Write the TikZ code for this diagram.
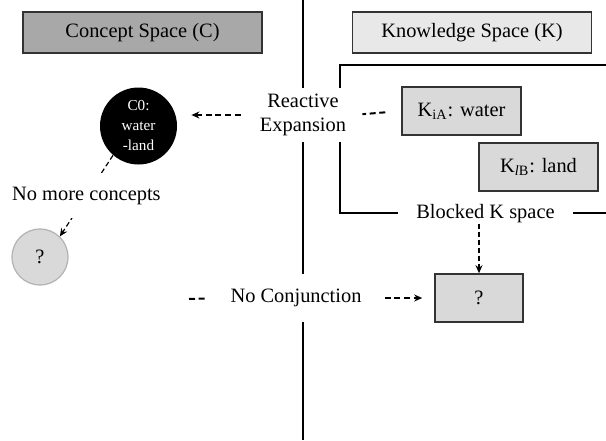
\documentclass[tikz,border=0pt]{standalone}
\usepackage{fontspec}
\setmainfont{Liberation Serif}
\usetikzlibrary{positioning,arrows.meta}
\definecolor{dark-gray}{gray}{0.66}
\definecolor{pale-gray}{gray}{0.91}
\definecolor{box-gray}{gray}{0.85}
\definecolor{edge-gray}{gray}{0.2}
\definecolor{ring-gray}{gray}{0.70}
\tikzstyle{spacestyle}=[shape=rectangle,draw=edge-gray,line width=0.8pt,minimum width=119.5pt,minimum height=20.5pt]
\tikzstyle{kstyle}=[shape=rectangle,fill=box-gray,draw=edge-gray,line width=0.8pt,minimum width=59.5pt,minimum height=24pt]
\tikzstyle{cutstyle}=[fill=white,align=center,inner xsep=3pt,inner ysep=0pt]
\tikzstyle{thickdash}=[line width=1pt,dash pattern=on 3pt off 1.8pt]
\tikzstyle{thindash}=[line width=0.6pt,dash pattern=on 2.5pt off 1.5pt]
\newcommand{\kname}[2]{K\textsubscript{#1}: #2}

\begin{document}
\begin{tikzpicture}[x=0.5pt,y=-0.5pt,font=\fontsize{10.2}{12}\selectfont,
  >={Stealth[length=4pt,width=3.5pt]}]
\useasboundingbox (0,0) rectangle (606,440);
% blocked K frame
\draw[line width=0.8pt] (606,65) -- (340,65) -- (340,213) -- (606,213);
% headers
\draw (142.5,32.5) node [style=spacestyle,fill=dark-gray] (cspace) {Concept Space (C)};
\draw (472,32.5) node [style=spacestyle,fill=pale-gray] (kspace) {Knowledge Space (K)};
% K side
\draw (461.5,111) node [style=kstyle] (kia) {\kname{iA}{water}};
\draw (538.5,167) node [style=kstyle] (kib) {\kname{\textit{l}B}{land}};
\draw (479,298) node [style=kstyle,minimum width=44pt] (qbox) {?};
\draw (485.5,214) node [style=cutstyle,inner xsep=9pt] (blocked) {Blocked K space};
% C side
\draw (138.5,126) node [shape=circle,fill=black,text=white,align=center,minimum size=38.5pt,inner sep=0pt,
  font=\fontsize{7.6}{10}\selectfont] (c0) {C0:\\water\\-land};
\draw (40,257) node [shape=circle,fill=box-gray,draw=ring-gray,line width=0.6pt,minimum size=28pt] (qc) {?};
% middle labels
\draw (303,115) node [style=cutstyle,minimum height=27pt] (react) {Reactive\\Expansion};
\draw (296,298) node [style=cutstyle,minimum height=24pt,inner xsep=2pt] (noconj) {No Conjunction};
\coordinate (divtop) at (303,0);
\coordinate (divbot) at (303,440);
\coordinate (ncstub) at (189,299);
% divider
\draw[line width=1.3pt] (divtop) -- (divtop |- react.north);
\draw[line width=1.3pt] (divtop |- react.south) -- (divtop |- noconj.north);
\draw[line width=1.3pt] (divtop |- noconj.south) -- (divbot);
% links
\draw[thickdash,shorten <=8pt,shorten >=5pt] (kia.west) -- (react.east);
\draw[thickdash,->,shorten <=6.5pt,shorten >=7pt] (react.west) -- (react.west -| c0.east);
\draw[thindash,->] (c0.229) -- node [fill=white,minimum height=22.5pt,inner sep=0pt] (nomore) {No more concepts} (qc.46);
\draw[thickdash,shorten >=9.5pt] (ncstub) -- (noconj.west);
\draw[thickdash,->,shorten <=9.5pt,shorten >=6pt] (noconj.east) -- (qbox.west);
\draw[thindash,->] (qbox.north |- blocked.south) -- (qbox.north);
\end{tikzpicture}
\end{document}
